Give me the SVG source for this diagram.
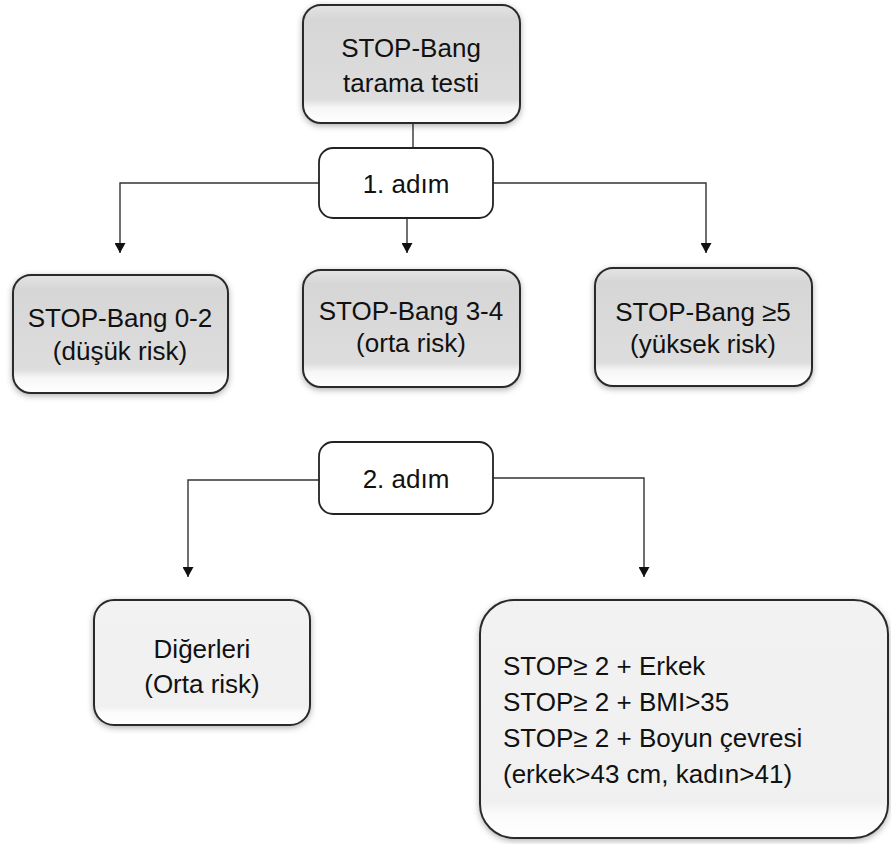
<svg xmlns="http://www.w3.org/2000/svg" width="891" height="844" viewBox="0 0 891 844">
<style>
  .t { font-family: "Liberation Sans", Arial, sans-serif; font-size: 26px; fill: #111; }
  .c { text-anchor: middle; }
  .gbox { fill: url(#gray); stroke: #2b2b2b; stroke-width: 2; filter: url(#sh); }
  .lbox { fill: url(#light); stroke: #2b2b2b; stroke-width: 2; filter: url(#sh); }
  .wbox { fill: #fff; stroke: #222; stroke-width: 1.8; }
  .con { fill: none; stroke: #333; stroke-width: 1.4; }
</style>
<defs>
  <linearGradient id="gray" x1="0" y1="0" x2="0" y2="1">
    <stop offset="0" stop-color="#e4e4e4"/>
    <stop offset="0.12" stop-color="#d6d6d6"/>
    <stop offset="0.8" stop-color="#dddddd"/>
    <stop offset="0.87" stop-color="#f6f6f6"/>
    <stop offset="1" stop-color="#ffffff"/>
  </linearGradient>
  <linearGradient id="light" x1="0" y1="0" x2="0" y2="1">
    <stop offset="0" stop-color="#f2f2f2"/>
    <stop offset="0.85" stop-color="#f0f0f0"/>
    <stop offset="0.9" stop-color="#fbfbfb"/>
    <stop offset="1" stop-color="#ffffff"/>
  </linearGradient>
  <filter id="sh" x="-10%" y="-10%" width="120%" height="125%">
    <feDropShadow dx="0" dy="2" stdDeviation="3" flood-color="#000" flood-opacity="0.3"/>
  </filter>
  <marker id="arr" markerUnits="userSpaceOnUse" markerWidth="11" markerHeight="11" refX="10" refY="5.5" orient="auto">
    <path d="M0,0 L10,5.5 L0,11 z" fill="#111"/>
  </marker>
</defs>

<g id="connectors">
  <line class="con" x1="413" y1="123" x2="413" y2="148"/>
  <polyline class="con" points="319,183 120,183 120,253" marker-end="url(#arr)"/>
  <line class="con" x1="407" y1="218" x2="407" y2="253" marker-end="url(#arr)"/>
  <polyline class="con" points="493,183 706,183 706,253" marker-end="url(#arr)"/>
  <polyline class="con" points="319,480 188,480 188,577" marker-end="url(#arr)"/>
  <polyline class="con" points="493,478 644,478 644,577" marker-end="url(#arr)"/>
</g>

<g id="n-top">
  <rect class="gbox" x="303" y="5" width="217" height="118" rx="18"/>
  <text class="t c" x="411" y="57">STOP-Bang</text>
  <text class="t c" x="411" y="92">tarama testi</text>
</g>

<g id="n-step1">
  <rect class="wbox" x="319" y="148" width="174" height="70" rx="14"/>
  <text class="t c" x="406" y="193">1. adım</text>
</g>

<g id="n-low">
  <rect class="gbox" x="13" y="275" width="215" height="118" rx="18"/>
  <text class="t c" x="120" y="327">STOP-Bang 0-2</text>
  <text class="t c" x="120" y="360">(düşük risk)</text>
</g>

<g id="n-mid">
  <rect class="gbox" x="303" y="270" width="217" height="117" rx="18"/>
  <text class="t c" x="411" y="320">STOP-Bang 3-4</text>
  <text class="t c" x="411" y="352">(orta risk)</text>
</g>

<g id="n-high">
  <rect class="gbox" x="595" y="268" width="217" height="118" rx="18"/>
  <text class="t c" x="703" y="321">STOP-Bang ≥5</text>
  <text class="t c" x="703" y="353">(yüksek risk)</text>
</g>

<g id="n-step2">
  <rect class="wbox" x="319" y="442" width="174" height="72" rx="14"/>
  <text class="t c" x="406" y="488">2. adım</text>
</g>

<g id="n-other">
  <rect class="lbox" x="94" y="600" width="216" height="125" rx="20"/>
  <text class="t c" x="202" y="658">Diğerleri</text>
  <text class="t c" x="202" y="693">(Orta risk)</text>
</g>

<g id="n-criteria">
  <rect class="lbox" x="480" y="600" width="408" height="238" rx="34"/>
  <text class="t" x="503" y="675">STOP≥ 2 + Erkek</text>
  <text class="t" x="503" y="711">STOP≥ 2 + BMI&gt;35</text>
  <text class="t" x="503" y="747">STOP≥ 2 + Boyun çevresi</text>
  <text class="t" x="503" y="783">(erkek&gt;43 cm, kadın&gt;41)</text>
</g>
</svg>
